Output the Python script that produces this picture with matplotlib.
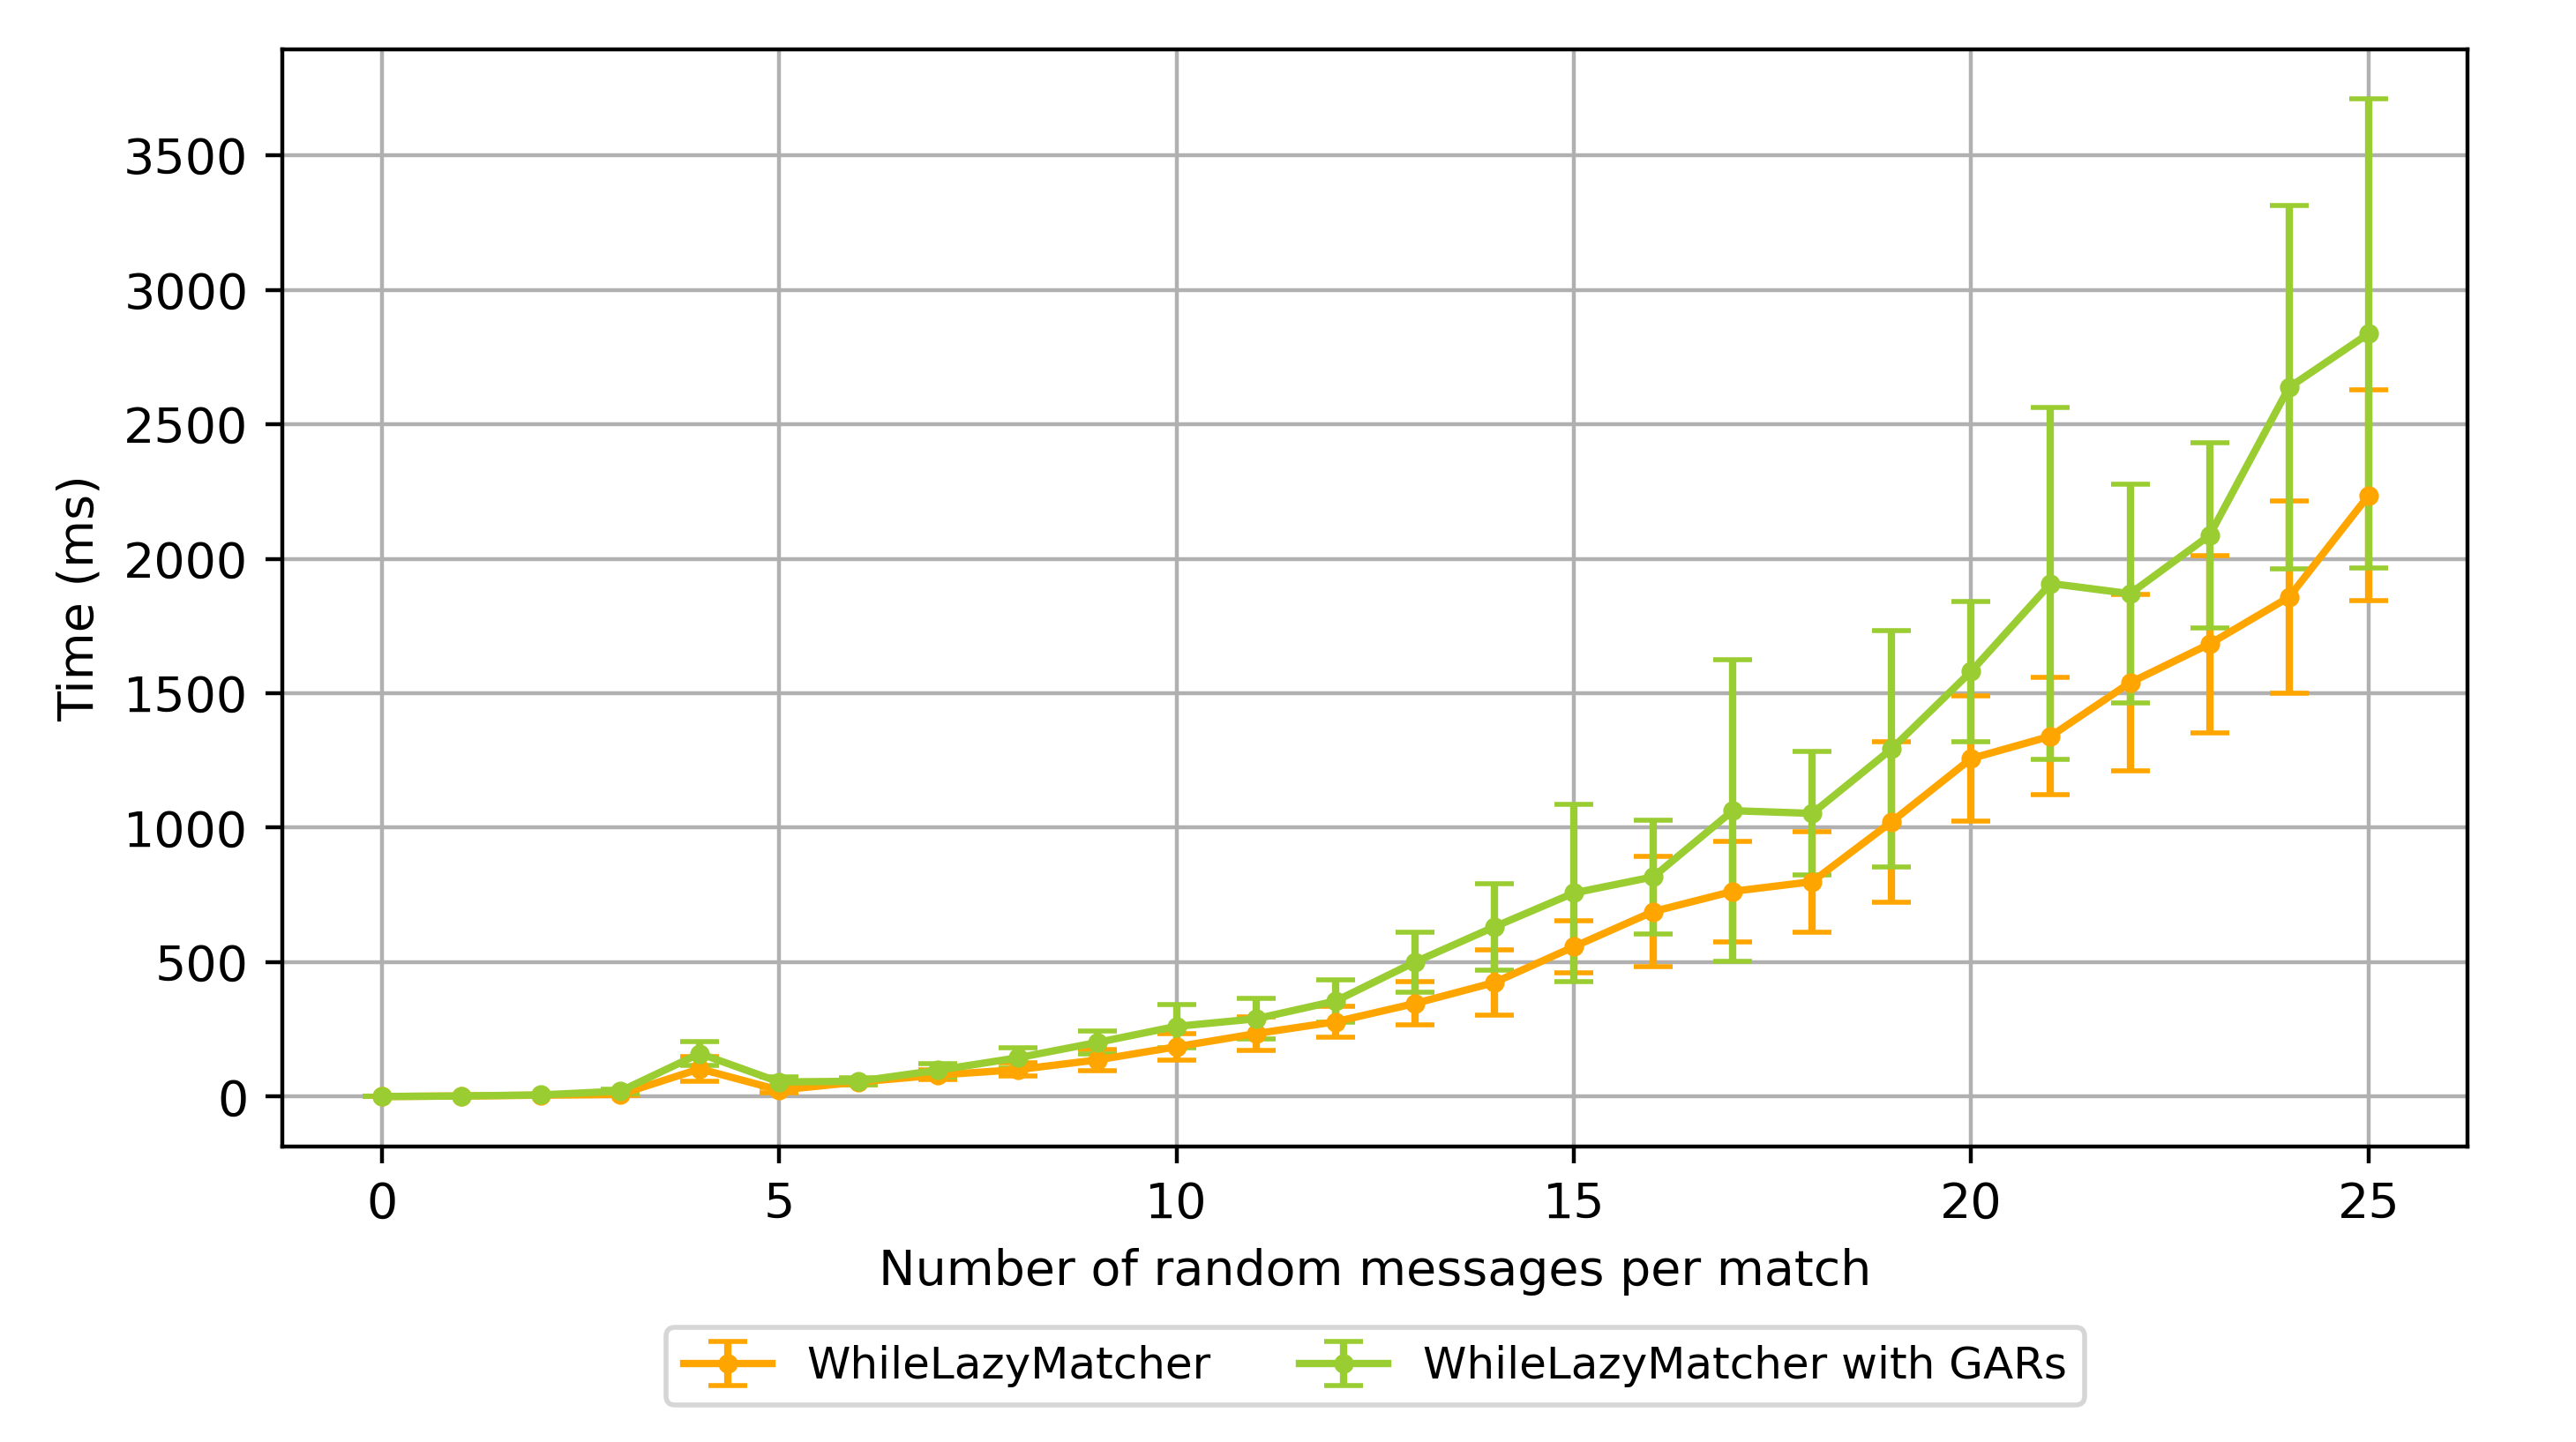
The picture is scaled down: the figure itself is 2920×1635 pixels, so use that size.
import matplotlib
matplotlib.use('Agg')
import matplotlib.pyplot as plt

# random messages per match
n_messages = list(range(26))

# WhileLazyMatcher: mean and std (ms)
lazy_mean = [0, 2, 5, 8, 103, 24, 54, 80, 100, 136, 185, 234, 278, 346, 424,
             557, 688, 763, 799, 1022, 1257, 1340, 1539, 1683, 1857, 2235]
lazy_std = [0, 1, 2, 4, 46, 10, 12, 18, 24, 40, 50, 62, 57, 80, 120,
            97, 205, 187, 187, 298, 232, 218, 328, 330, 357, 392]

# WhileLazyMatcher with GARs
gars_mean = [0, 2, 6, 20, 160, 54, 57, 98, 144, 201, 261, 289, 355, 500, 631,
             757, 817, 1063, 1053, 1293, 1581, 1908, 1870, 2087, 2637, 2837]
gars_std = [0, 1, 3, 8, 44, 18, 12, 24, 38, 44, 80, 75, 80, 112, 160,
            330, 212, 560, 229, 440, 260, 655, 407, 345, 675, 872]

fig = plt.figure(figsize=(2920 / 400, 1635 / 400), dpi=400)
ax = fig.add_axes([0.1097, 0.205, 0.8483, 0.7608])

ax.errorbar(n_messages, lazy_mean, yerr=lazy_std, color='orange',
            marker='o', markersize=3, linewidth=1.5, capsize=4,
            label='WhileLazyMatcher')
ax.errorbar(n_messages, gars_mean, yerr=gars_std, color='yellowgreen',
            marker='o', markersize=3, linewidth=1.5, capsize=4,
            label='WhileLazyMatcher with GARs')

ax.set_xlabel('Number of random messages per match')
ax.set_ylabel('Time (ms)')
ax.grid(True)

ax.legend(loc='upper center', bbox_to_anchor=(0.5, -0.145), ncol=2,
          fontsize=9)

fig.savefig('out.png', dpi=400)
